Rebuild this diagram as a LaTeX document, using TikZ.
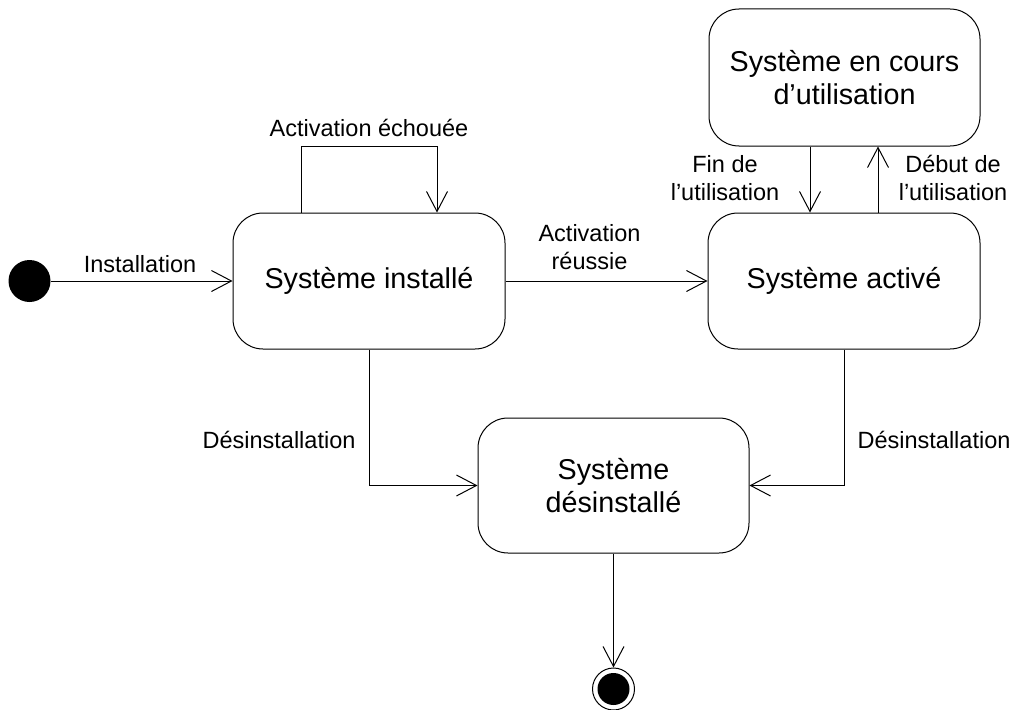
\documentclass[tikz,border=0pt]{standalone}
\usepackage{fontspec}
\setmainfont{Liberation Sans}
\usetikzlibrary{arrows.meta}
\begin{document}
\begin{tikzpicture}[x=1pt,y=-1pt,line width=1pt,
  statebox/.style={draw,rounded corners=30pt,minimum width=272pt,minimum height=136pt,inner sep=0pt,align=center,font=\fontsize{28.7}{33}\selectfont},
  lbl/.style={align=center,inner sep=0pt,font=\fontsize{23.5}{28}\selectfont},
  arr/.style={-{Straight Barb[length=20pt,width=21pt]}}]
\useasboundingbox (0,0) rectangle (1014,709);
\node[circle,fill=black,minimum size=42pt,inner sep=0pt] (init) at (29.5,281) {};
\node[statebox] (inst) at (369,281) {Système installé};
\node[statebox] (act) at (844,281) {Système activé};
\node[statebox,minimum height=137pt,minimum width=271pt] (use) at (844.5,77.5) {Système en cours\\d’utilisation};
\node[statebox,minimum height=135pt,minimum width=271pt] (unin) at (613.5,485.5) {Système\\désinstallé};
\node[circle,draw,fill=white,minimum size=42pt,inner sep=0pt] (fin) at (613.5,689) {};
\fill (fin.center) circle (16pt);
\coordinate (l1) at (301,146);
\coordinate (l2) at (437,146);
\coordinate (xf) at (810,0);
\coordinate (xd) at (878,0);
\draw[arr] (init) -- (inst);
\draw[arr] (inst.north -| l1) -- (l1) -- (l2) -- (inst.north -| l2);
\draw[arr] (inst) -- (act);
\draw[arr] (use.south -| xf) -- (act.north -| xf);
\draw[arr] (act.north -| xd) -- (use.south -| xd);
\draw[arr] (inst.south) |- (unin.west);
\draw[arr] (act.south) |- (unin.east);
\draw[arr] (unin.south) -- (fin.north);
\node[lbl] (t1) at (140,264) {Installation};
\node[lbl] (t2) at (369,128) {Activation échouée};
\node[lbl] (t3) at (589.5,247) {Activation\\réussie};
\node[lbl] (t4) at (725,178) {Fin de\\l’utilisation};
\node[lbl] (t5) at (953,178) {Début de\\l’utilisation};
\node[lbl] (t6) at (279,440) {Désinstallation};
\node[lbl] (t7) at (934,440) {Désinstallation};
\end{tikzpicture}
\end{document}
